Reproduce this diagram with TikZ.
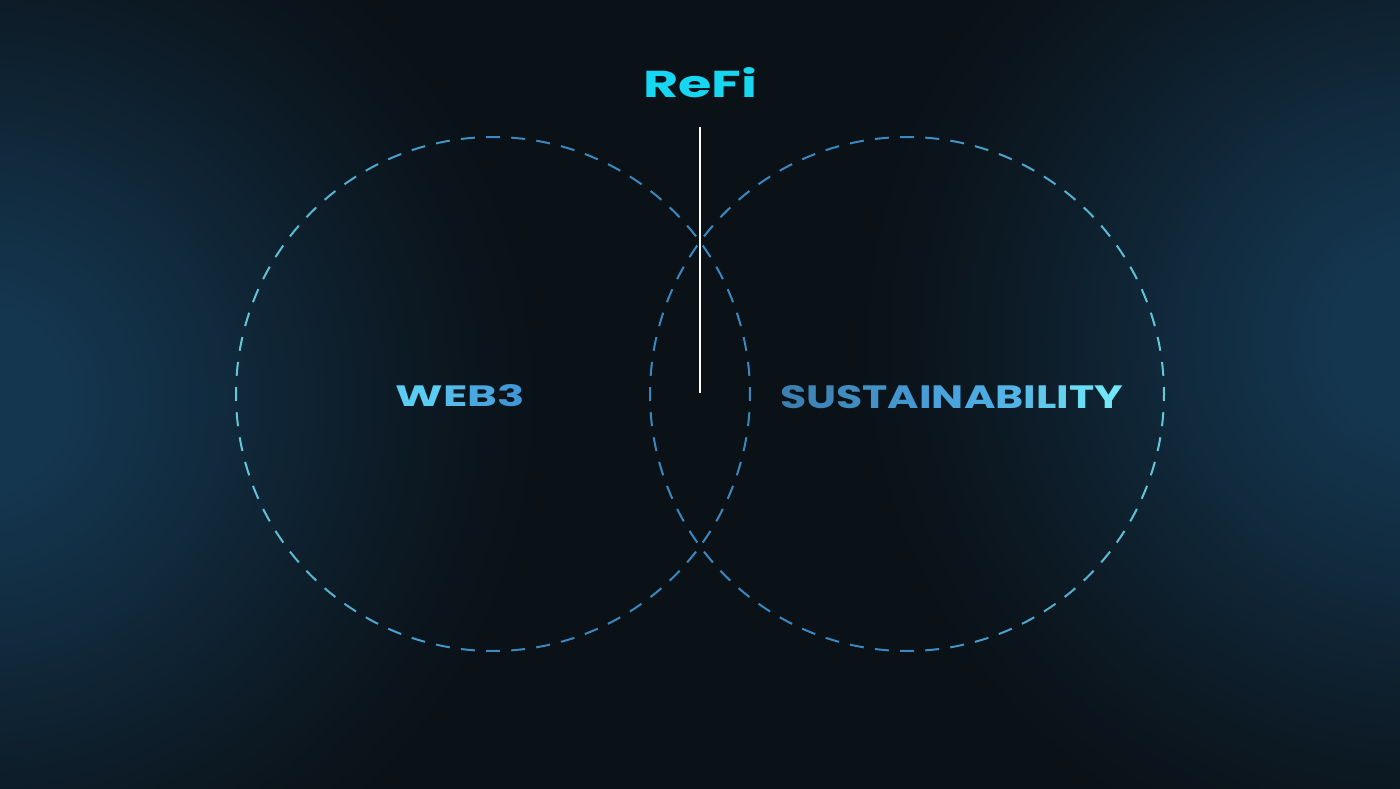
\documentclass[tikz,border=0pt]{standalone}
\usepackage{fontspec}
\usepackage{graphicx}
\newfontfamily\disp{Poppins}
\definecolor{bgc}{HTML}{0A1117}
\definecolor{glowc}{HTML}{14364F}
\definecolor{refic}{HTML}{17D6F2}
\definecolor{cy}{HTML}{66C8D8}
\definecolor{bl}{HTML}{3A88BF}
\definecolor{wA}{HTML}{5CCDF2}
\definecolor{wB}{HTML}{4198D8}
\definecolor{sL}{HTML}{3B80B0}
\definecolor{sM}{HTML}{4AA6E0}
\definecolor{sR}{HTML}{70E6F6}
\pgfdeclareradialshading{glow}{\pgfpoint{0bp}{0bp}}{%
  color(0bp)=(glowc); color(4bp)=(glowc);
  color(10bp)=(glowc!70!bgc); color(16bp)=(glowc!35!bgc);
  color(21bp)=(glowc!10!bgc); color(25bp)=(bgc); color(50bp)=(bgc)}
\tikzset{
  dashseg/.style={line width=1pt, line cap=butt},
  label text/.style={inner sep=0pt, font=\disp\bfseries},
}
\begin{document}
\begin{tikzpicture}[x=0.5pt, y=-0.5pt]
\useasboundingbox (0,0) rectangle (1400,788);
\begin{scope}
\clip (0,0) rectangle (1400,788);
\fill[bgc] (-20,-20) rectangle (1420,808);
\shade[shading=glow] (-30,400) ellipse [x radius=600, y radius=580];
\shade[shading=glow] (1430,340) ellipse [x radius=600, y radius=580];
\end{scope}

% circles
\coordinate (cl) at (493,394);
\coordinate (cr) at (907,394);
\foreach \i in {0,...,63}{
  \pgfmathsetmacro\a{90+\i*5.625-1.56}
  \pgfmathtruncatemacro\fl{100*max(0,-cos(\a+1.56))}
  \pgfmathtruncatemacro\fr{100*max(0,cos(\a+1.56))}
  \draw[dashseg, color=cy!\fl!bl] ([shift={(\a:257)}]cl) arc[start angle=\a, delta angle=3.12, radius=257];
  \draw[dashseg, color=cy!\fr!bl] ([shift={(\a:257)}]cr) arc[start angle=\a, delta angle=3.12, radius=257];
}

% vertical line
\coordinate (lt) at (700,127);
\coordinate (lb) at (700,393);
\draw[white, line width=1pt] (lt) -- (lb);

% labels
\node[label text, text=refic] (refi) at (700,83) {\resizebox{57pt}{15pt}{ReFi}};
\node[label text] (web3) at (460.5,396) {\resizebox{64.5pt}{11pt}{%
  \textcolor{wA}{W}\textcolor{wB!35!wA}{E}\textcolor{wB!70!wA}{B}\textcolor{wB}{3}}};
\node[label text] (sust) at (951.5,397.5) {\resizebox{171.5pt}{11.5pt}{%
  \textcolor{sL}{S}\textcolor{sM!15!sL}{U}\textcolor{sM!31!sL}{S}\textcolor{sM!46!sL}{T}%
  \textcolor{sM!62!sL}{A}\textcolor{sM!77!sL}{I}\textcolor{sM!92!sL}{N}\textcolor{sR!8!sM}{A}%
  \textcolor{sR!23!sM}{B}\textcolor{sR!38!sM}{I}\textcolor{sR!54!sM}{L}\textcolor{sR!69!sM}{I}%
  \textcolor{sR!85!sM}{T}\textcolor{sR}{Y}}};
\end{tikzpicture}
\end{document}
